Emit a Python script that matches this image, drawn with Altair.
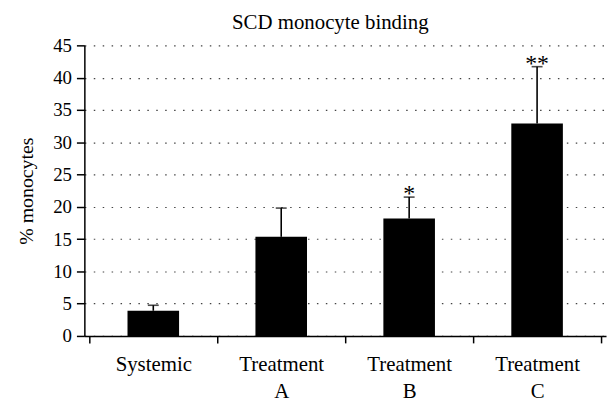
import json
import altair as alt
import pandas as pd

categories = ["Systemic", "Treatment A", "Treatment B", "Treatment C"]
label_lines = [["Systemic"], ["Treatment", "A"], ["Treatment", "B"], ["Treatment", "C"]]
values = [3.9, 15.35, 18.2, 32.9]
upper_err = [0.85, 4.45, 3.3, 8.8]
stars = ["", "", "*", "**"]
y_ticks = [0, 5, 10, 15, 20, 25, 30, 35, 40, 45]

df = pd.DataFrame({
    "cat": categories,
    "pos": [i + 0.5 for i in range(len(categories))],
    "value": values,
    "upper": [v + e for v, e in zip(values, upper_err)],
    "star": stars,
})

FONT = "Liberation Serif"
xscale = alt.Scale(domain=[0, len(categories)], nice=False, zero=False)
yscale = alt.Scale(domain=[0, 45], nice=False)

label_expr = json.dumps(label_lines) + "[floor(datum.value)]"

y_axis = alt.Axis(values=y_ticks, title="% monocytes",
                  grid=True, gridColor="#444", gridDash=[1.5, 7.5],
                  gridWidth=1.2, tickSize=8, tickColor="black", tickWidth=1.5,
                  domainColor="black", domainWidth=1.5,
                  labelFont=FONT, labelFontSize=19, labelColor="black",
                  labelPadding=5,
                  titleFont=FONT, titleFontSize=20, titleFontWeight="normal",
                  titleColor="black", titlePadding=16)

base = alt.Chart(df)

bars = base.mark_bar(color="black", size=52).encode(
    x=alt.X("pos:Q", scale=xscale,
            axis=alt.Axis(orient="bottom", values=list(range(len(categories) + 1)),
                          labels=False, ticks=True, tickSize=7, tickColor="black",
                          tickWidth=1.5, domain=True, domainColor="black",
                          domainWidth=1.5, grid=False, title=None)),
    y=alt.Y("value:Q", scale=yscale, axis=y_axis),
)

err = base.mark_rule(color="black", strokeWidth=1.6).encode(
    x=alt.X("pos:Q", scale=xscale,
            axis=alt.Axis(orient="bottom", values=[i + 0.5 for i in range(len(categories))],
                          labelExpr=label_expr, ticks=False, domain=False, grid=False,
                          labelFont=FONT, labelFontSize=21, labelColor="black",
                          labelPadding=18, labelLineHeight=27, title=None)),
    y=alt.Y("value:Q", scale=yscale, axis=y_axis),
    y2="upper:Q",
)

caps = base.mark_tick(color="black", size=11, thickness=1.6, orient="horizontal").encode(
    x=alt.X("pos:Q", scale=xscale, axis=None),
    y=alt.Y("upper:Q", scale=yscale, axis=y_axis),
)

txt = base.mark_text(font=FONT, fontSize=24, color="black", baseline="alphabetic",
                     dy=4).encode(
    x=alt.X("pos:Q", scale=xscale, axis=None),
    y=alt.Y("upper:Q", scale=yscale, axis=y_axis),
    text="star:N",
)

chart = alt.layer(bars, err, caps, txt).resolve_axis(x="independent").properties(
    width=526, height=293,
    title=alt.TitleParams("SCD monocyte binding", font=FONT, fontSize=21,
                          fontWeight="normal", color="black", anchor="middle",
                          dx=-15, offset=4),
    autosize=alt.AutoSizeParams(type="none"),
    padding={"left": 77, "top": 36, "right": 2, "bottom": 72},
).configure(font=FONT).configure_view(stroke=None).configure_axis(
    labelFont=FONT, titleFont=FONT, labelColor="black", titleColor="black"
).configure_axisY(
    labelFont=FONT, titleFont=FONT, labelFontSize=19, titleFontSize=20,
    titleFontWeight="normal"
)

chart.save("out.html", embed_options={"renderer": "svg", "actions": False})
